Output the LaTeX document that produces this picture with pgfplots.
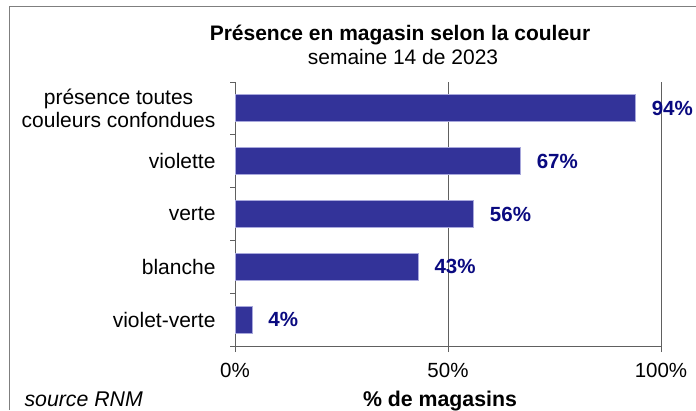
\documentclass[border=0pt]{standalone}
\usepackage{pgfplots}
\pgfplotsset{compat=1.18}
\usepackage{fontspec}
\setmainfont{Liberation Sans}
\definecolor{barblue}{HTML}{333399}
\definecolor{barline}{HTML}{A8A8DC}
\definecolor{labnavy}{HTML}{0A0A80}
\definecolor{framegray}{HTML}{7F7F7F}
\definecolor{axgray}{HTML}{606060}

\begin{document}
\begin{tikzpicture}[x=1pt,y=1pt]
\path[use as bounding box] (0,0) rectangle (696,410);
\draw[framegray, line width=1pt] (9,0) -- (9,403) -- (696,403);
\node[font=\fontsize{21}{25}\selectfont\bfseries, anchor=base] at (400,369) {Présence en magasin selon la couleur};
\node[font=\fontsize{21}{25}\selectfont, anchor=base] at (403,345) {semaine 14 de 2023};
\node[font=\fontsize{21.3}{25}\selectfont\itshape, anchor=base west] at (21,4) {source RNM};

\begin{axis}[
  at={(235pt,64pt)}, anchor=south west, scale only axis,
  width=426pt, height=264pt,
  xbar, bar width=27pt,
  xmin=0, xmax=100, ymin=-0.5, ymax=4.5,
  axis x line*=bottom, axis y line*=left,
  axis line style={axgray, line width=0.9pt},
  tick align=outside,
  major tick length=6pt, minor tick length=5pt,
  tick style={axgray, line width=0.9pt},
  xtick={0,50,100}, xticklabels={0\%,50\%,100\%},
  xmajorgrids, grid style={axgray, line width=0.9pt},
  ytick={0,1,2,3,4},
  yticklabels={violet-verte,blanche,verte,violette,{présence toutes\\couleurs confondues}},
  major y tick style={draw=none},
  minor ytick={-0.5,0.5,1.5,2.5,3.5,4.5},
  xticklabel style={font=\fontsize{20.5}{24}\selectfont, yshift=-8pt},
  yticklabel style={font=\fontsize{21}{23.5}\selectfont, align=center, xshift=-10pt},
  xlabel={\% de magasins},
  xlabel style={font=\fontsize{21.3}{25}\selectfont\bfseries, at={(axis description cs:0.5,0)}, anchor=base, yshift=-60pt, xshift=-8pt},
  point meta=x,
  nodes near coords={\pgfmathprintnumber[assume math mode=true]{\pgfplotspointmeta}\%},
  every node near coord/.append style={font=\fontsize{20.5}{25}\selectfont\bfseries, text=labnavy, anchor=west, inner sep=0pt, xshift=16pt},
  clip=false,
]
\addplot[fill=barblue, draw=barline, line width=0.8pt] coordinates {
(4,0) (43,1) (56,2) (67,3) (94,4)
};
\end{axis}
\end{tikzpicture}
\end{document}
